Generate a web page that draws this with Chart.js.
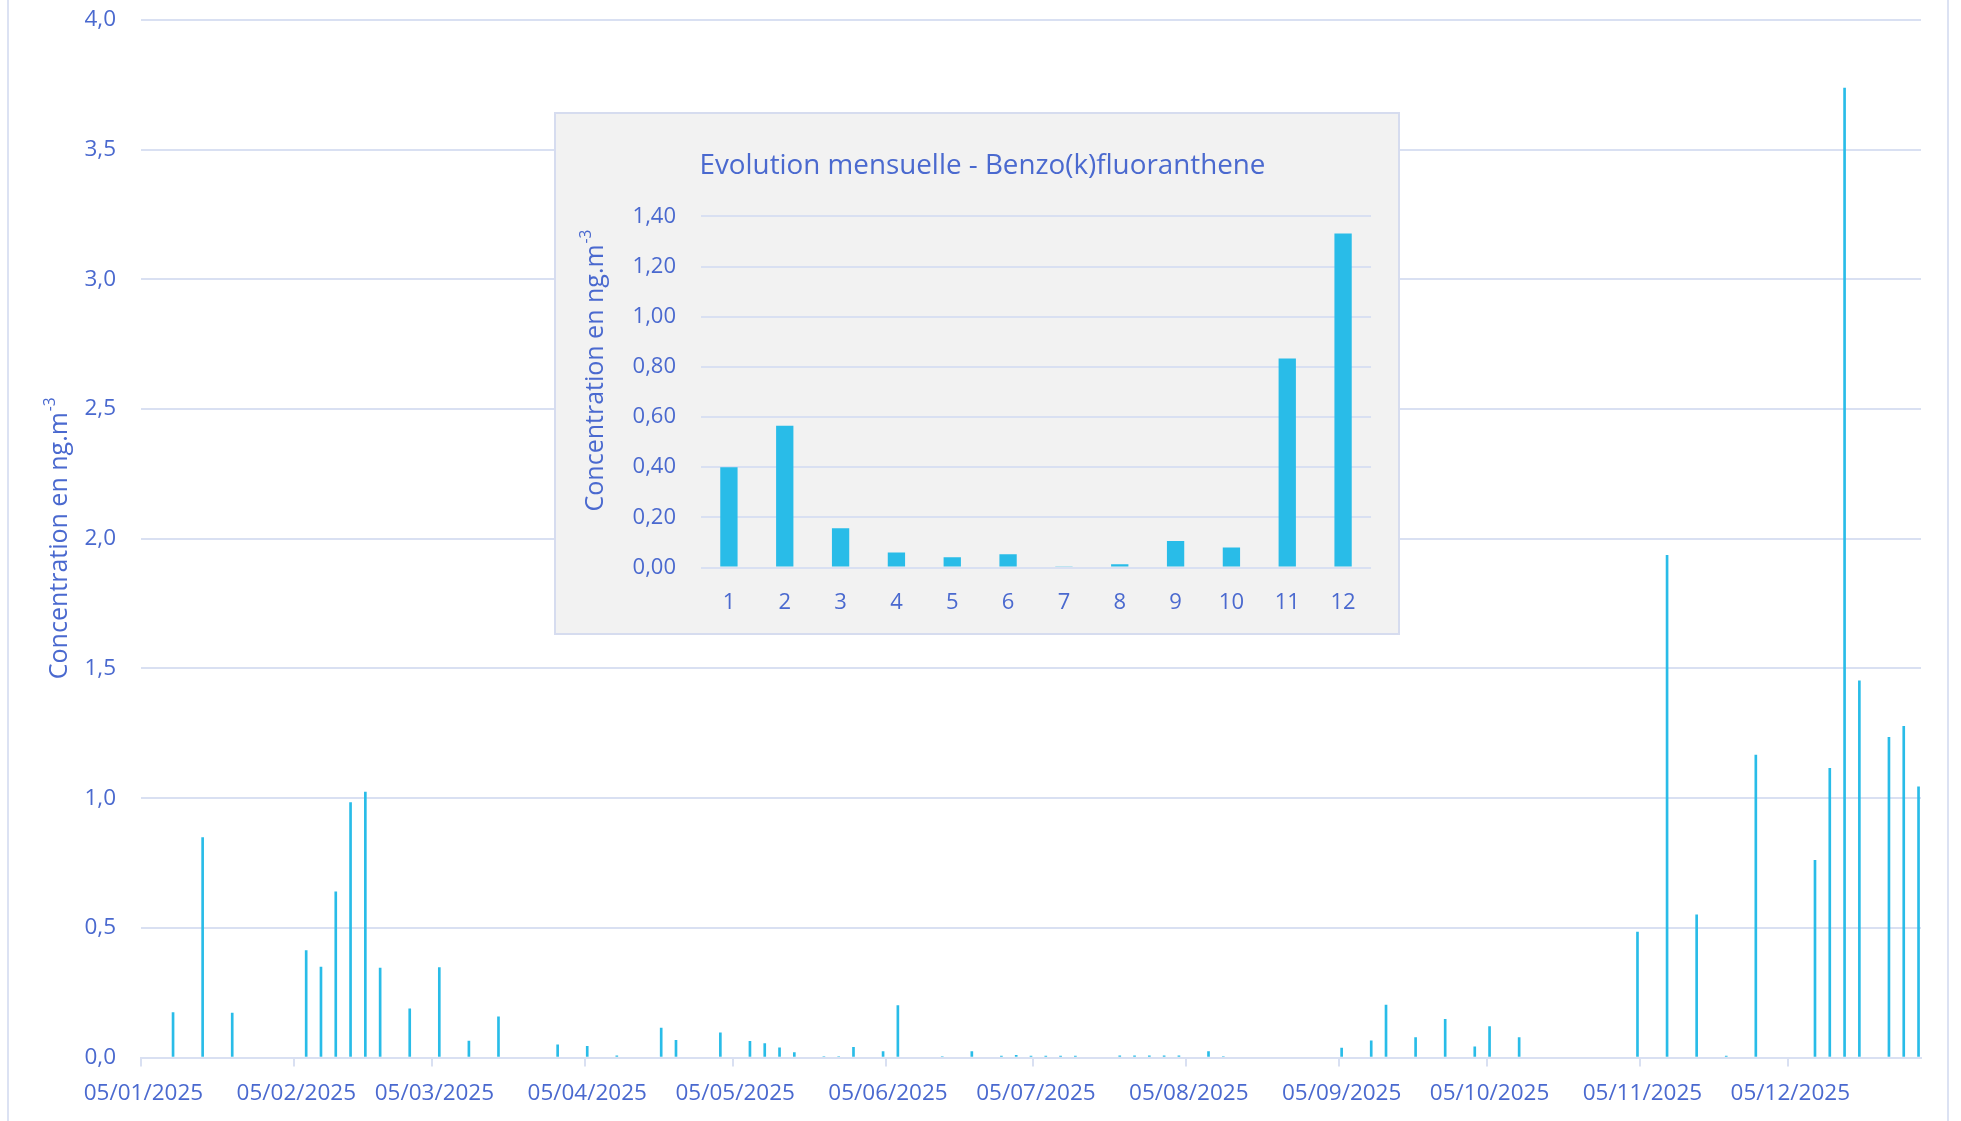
<!DOCTYPE html>
<html lang="fr">
<head>
<meta charset="utf-8">
<title>Benzo(k)fluoranthene 2025</title>
<script src="https://cdn.jsdelivr.net/npm/chart.js@4.4.1/dist/chart.umd.min.js"></script>
<style>
  html, body { margin: 0; padding: 0; background: #ffffff; }
  #wrap { position: relative; width: 1961px; height: 1121px; overflow: hidden; background: #ffffff; }
  #main { position: absolute; left: 0; top: 0; }
  #frame { position: absolute; left: 7px; top: -10px; width: 1942px; height: 1141px;
           box-sizing: border-box; border-left: 2px solid #DCE2F3; border-right: 2px solid #DCE2F3;
           pointer-events: none; }
  #insetBox { position: absolute; left: 554px; top: 112px; width: 846px; height: 523px;
              box-sizing: border-box; border: 2px solid #D6DCEF; background: #F2F2F2; }
  #inset { display: block; }
</style>
</head>
<body>
<div id="wrap">
  <canvas id="main" width="1961" height="1121"></canvas>
  <div id="frame"></div>
  <div id="insetBox"><canvas id="inset" width="842" height="519"></canvas></div>
</div>
<script>
// ---- Sample dates (dd/mm/yyyy) and daily concentrations, ng/m3 ----
const sampleDates = [
  '11/01/2025', '17/01/2025', '23/01/2025',
  '07/02/2025', '10/02/2025', '13/02/2025', '16/02/2025', '19/02/2025', '22/02/2025', '28/02/2025',
  '06/03/2025', '12/03/2025', '18/03/2025', '30/03/2025',
  '05/04/2025', '11/04/2025', '20/04/2025', '23/04/2025',
  '02/05/2025', '08/05/2025', '11/05/2025', '14/05/2025', '17/05/2025', '23/05/2025', '26/05/2025', '29/05/2025',
  '04/06/2025', '07/06/2025', '16/06/2025', '22/06/2025', '28/06/2025',
  '01/07/2025', '04/07/2025', '07/07/2025', '10/07/2025', '13/07/2025', '22/07/2025', '25/07/2025', '28/07/2025', '31/07/2025',
  '03/08/2025', '09/08/2025', '12/08/2025',
  '05/09/2025', '11/09/2025', '14/09/2025', '20/09/2025', '26/09/2025',
  '02/10/2025', '05/10/2025', '11/10/2025',
  '04/11/2025', '10/11/2025', '16/11/2025', '22/11/2025', '28/11/2025',
  '10/12/2025', '13/12/2025', '16/12/2025', '19/12/2025', '25/12/2025', '28/12/2025', '31/12/2025'
];
const dailyValues = [
  0.173, 0.848, 0.171,
  0.412, 0.349, 0.639, 0.983, 1.023, 0.345, 0.188,
  0.347, 0.063, 0.157, 0.049,
  0.043, 0.006, 0.113, 0.066,
  0.095, 0.062, 0.054, 0.037, 0.019, 0.004, 0.004, 0.039,
  0.023, 0.200, 0.004, 0.023, 0.005,
  0.008, 0.005, 0.005, 0.005, 0.005, 0.006, 0.006, 0.006, 0.006,
  0.006, 0.023, 0.004,
  0.036, 0.064, 0.202, 0.077, 0.147,
  0.041, 0.119, 0.077,
  0.484, 1.936, 0.550, 0.005, 1.166,
  0.760, 1.115, 3.738, 1.452, 1.234, 1.277, 1.044
];

// Date axis span (one slot per day)
const axisStart = '05/01/2025';
const axisEnd = '31/12/2025';

// ---- Monthly means ----
const months = ['1', '2', '3', '4', '5', '6', '7', '8', '9', '10', '11', '12'];
const monthlyMeans = [0.400, 0.565, 0.156, 0.060, 0.041, 0.053, 0.005, 0.013, 0.106, 0.080, 0.833, 1.332];

// ---- Texts ----
const yTitleText = 'Concentration en ng.m';
const yTitleSup = '-3';
const insetTitle = 'Evolution mensuelle - Benzo(k)fluoranthene';

// ---- Style ----
const FONT = '"Open Sans", "Noto Sans", sans-serif';
const TEXT = '#4A69CF';
const GRID = '#D9E0F2';
const BAR = '#29BCE8';
const NONE = 'rgba(0,0,0,0)';

// Build the daily category list from the axis span
function parseDMY(s) {
  const [d, m, y] = s.split('/').map(Number);
  return Date.UTC(y, m - 1, d);
}
function fmtDMY(t) {
  const dt = new Date(t);
  const dd = String(dt.getUTCDate()).padStart(2, '0');
  const mm = String(dt.getUTCMonth() + 1).padStart(2, '0');
  return dd + '/' + mm + '/' + dt.getUTCFullYear();
}
const dayLabels = [];
for (let t = parseDMY(axisStart); t <= parseDMY(axisEnd); t += 86400000) dayLabels.push(fmtDMY(t));
const valueByDate = {};
sampleDates.forEach((d, i) => { valueByDate[d] = dailyValues[i]; });
const dayValues = dayLabels.map(d => (d in valueByDate ? valueByDate[d] : null));
const isMonthTick = i => i >= 0 && i < dayLabels.length && dayLabels[i].startsWith('05/');

// Rotated axis title with a superscript exponent
const supTitle = {
  id: 'supTitle',
  afterDraw(chart, args, o) {
    const { ctx, chartArea } = chart;
    const cy = (o.y !== undefined) ? o.y : (chartArea.top + chartArea.bottom) / 2;
    ctx.save();
    ctx.translate(o.x, cy);
    ctx.rotate(-Math.PI / 2);
    ctx.fillStyle = o.color;
    ctx.textAlign = 'left';
    ctx.textBaseline = 'middle';
    const big = o.size + 'px ' + FONT;
    const small = (o.size * 0.62) + 'px ' + FONT;
    ctx.font = big;
    const w1 = ctx.measureText(o.text).width;
    ctx.font = small;
    const w2 = ctx.measureText(o.sup).width;
    const x0 = -(w1 + w2) / 2;
    ctx.font = big;
    ctx.fillText(o.text, x0, 0);
    ctx.font = small;
    ctx.fillText(o.sup, x0 + w1 + 1, -o.size * 0.38);
    ctx.restore();
  }
};

const comma = (v, n) => Number(v).toFixed(n).replace('.', ',');

// ---- Daily chart ----
new Chart(document.getElementById('main'), {
  type: 'bar',
  data: {
    labels: dayLabels,
    datasets: [{
      data: dayValues,
      backgroundColor: BAR,
      borderWidth: 0,
      barThickness: 2
    }]
  },
  options: {
    responsive: false,
    animation: false,
    layout: { padding: { top: 20, right: 40, bottom: 0, left: 0 } },
    plugins: {
      legend: { display: false },
      tooltip: { enabled: false },
      supTitle: { x: 60, size: 25, color: TEXT, text: yTitleText, sup: yTitleSup }
    },
    scales: {
      x: {
        offset: true,
        grid: {
          offset: true,
          drawOnChartArea: false,
          drawTicks: true,
          tickLength: 9,
          lineWidth: 2,
          color: c => isMonthTick(c.index) ? GRID : NONE
        },
        border: { display: true, color: GRID, width: 2 },
        ticks: {
          autoSkip: false,
          maxRotation: 0,
          minRotation: 0,
          padding: 13.5,
          color: TEXT,
          font: { family: FONT, size: 22.5 },
          callback: (v, i) => isMonthTick(i) ? dayLabels[i] : ''
        },
        afterFit: s => { s.height = 63.5; }
      },
      y: {
        min: 0,
        max: 4,
        ticks: {
          stepSize: 0.5,
          padding: 0,
          color: TEXT,
          font: { family: FONT, size: 22.5 },
          callback: v => comma(v, 1)
        },
        grid: { color: GRID, lineWidth: 2, drawTicks: true, tickLength: 25, tickColor: NONE },
        border: { display: false },
        afterFit: s => { s.width = 141; }
      }
    }
  },
  plugins: [supTitle]
});

// ---- Monthly inset chart ----
new Chart(document.getElementById('inset'), {
  type: 'bar',
  data: {
    labels: months,
    datasets: [{
      data: monthlyMeans,
      backgroundColor: BAR,
      borderWidth: 0,
      categoryPercentage: 1,
      barPercentage: 0.31
    }]
  },
  options: {
    responsive: false,
    animation: false,
    layout: { padding: { top: 0, right: 27, bottom: 0, left: 38 } },
    plugins: {
      legend: { display: false },
      tooltip: { enabled: false },
      title: {
        display: true,
        text: insetTitle,
        color: TEXT,
        font: { family: FONT, size: 27.8, weight: 'normal', lineHeight: 1.2 },
        padding: { top: 35, bottom: 34 }
      },
      supTitle: { x: 40, y: 257, size: 25, color: TEXT, text: yTitleText, sup: yTitleSup }
    },
    scales: {
      x: {
        grid: { display: false },
        border: { display: false },
        ticks: {
          padding: 14.5,
          color: TEXT,
          font: { family: FONT, size: 22 }
        },
        afterFit: s => { s.height = 65.5; }
      },
      y: {
        min: 0,
        max: 1.4,
        ticks: {
          stepSize: 0.2,
          padding: 0,
          color: TEXT,
          font: { family: FONT, size: 22 },
          callback: v => comma(v, 2)
        },
        grid: { color: GRID, lineWidth: 2, drawTicks: true, tickLength: 25, tickColor: NONE },
        border: { display: false },
        afterFit: s => { s.width = 107; }
      }
    }
  },
  plugins: [supTitle]
});
</script>
</body>
</html>
